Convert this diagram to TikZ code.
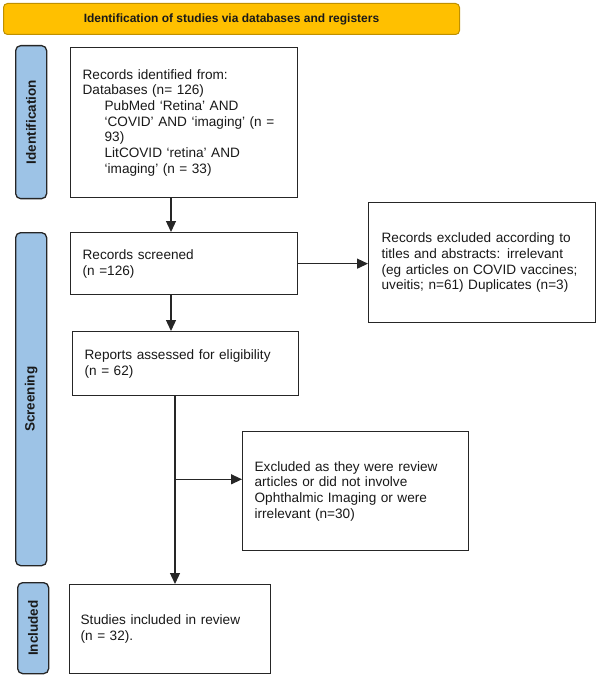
\documentclass[tikz,border=0pt]{standalone}
\usepackage{fontspec}
\setmainfont{Liberation Sans}
\usetikzlibrary{arrows.meta}
\definecolor{titlefill}{HTML}{FFC000}
\definecolor{titledraw}{HTML}{BF9000}
\definecolor{sidefill}{HTML}{9DC3E6}
\definecolor{linec}{HTML}{262626}
\tikzset{
  box/.style={draw=linec, line width=1.3pt, fill=white, anchor=north west, inner xsep=12pt, inner ysep=0pt, align=left,
    font=\fontsize{13.6}{15.7}\selectfont, text=black!90},
  sidebar/.style={draw=linec, line width=1.3pt, fill=sidefill, rounded corners=5pt, anchor=north west, inner sep=0pt},
  sidelabel/.style={rotate=90, font=\bfseries\fontsize{13.5}{15}\selectfont, text=black!90},
  arr/.style={draw=linec, fill=linec, line width=1.3pt, -{Triangle[length=11pt,width=10pt]}},
  ln/.style={draw=linec, line width=1.3pt}
}
\begin{document}
\begin{tikzpicture}[x=1pt,y=-1pt]
\useasboundingbox (0,0) rectangle (597,676);
% title
\node[draw=titledraw, line width=1pt, fill=titlefill, rounded corners=4pt, anchor=north west, minimum width=456pt, minimum height=31pt, inner sep=0pt,
  font=\bfseries\fontsize{12}{14}\selectfont, text=black!90] (title) at (3,3) {Identification of studies via databases and registers};
% side bars
\node[sidebar, minimum width=31pt, minimum height=153pt] (sid) at (15,45) {};
\node[sidelabel] (sidl) at (sid.center) {Identification};
\node[sidebar, minimum width=31pt, minimum height=333pt] (sscr) at (15,232) {};
\node[sidelabel] (sscrl) at (sscr.center) {Screening};
\node[sidebar, minimum width=31pt, minimum height=91pt] (sinc) at (17,582) {};
\node[sidelabel] (sincl) at (sinc.center) {Included};
% boxes
\node[box, text width=203pt, minimum height=150pt] (b1) at (70,47) {Records identified from:\\
Databases (n= 126)\\
\hspace*{22pt}PubMed ‘Retina’ AND\\
\hspace*{22pt}‘COVID’ AND ‘imaging’ (n =\\
\hspace*{22pt}93)\\
\hspace*{22pt}LitCOVID ‘retina’ AND\\
\hspace*{22pt}‘imaging’ (n = 33)};
\node[box, text width=203pt, minimum height=62pt] (b2) at (70,232) {Records screened\\(n =126)};
\node[box, text width=202pt, minimum height=64pt] (b3) at (72,331) {Reports assessed for eligibility\\(n = 62)};
\node[box, text width=179pt, minimum height=89pt, inner xsep=11pt] (b4) at (69,584) {Studies included in review\\(n = 32).};
\node[box, text width=201pt, minimum height=120pt, inner xsep=13pt] (r1) at (368,202) {Records excluded according to\\titles and abstracts: irrelevant\\(eg articles on COVID vaccines;\\uveitis; n=61) Duplicates (n=3)\\[4pt]};
\node[box, text width=202pt, minimum height=119pt] (r2) at (242,431) {Excluded as they were review\\articles or did not involve\\Ophthalmic Imaging or were\\irrelevant (n=30)\\[4pt]};
% connectors
\coordinate (j) at ([xshift=103pt,yshift=-83pt]b3.south west);
\draw[arr] ([xshift=101pt]b1.south west) -- ([xshift=101pt]b2.north west);
\draw[arr] ([xshift=101pt]b2.south west) -- ([xshift=99pt]b3.north west);
\draw[arr] (b2.east) -- (b2.east -| r1.west);
\draw[arr] ([xshift=103pt]b3.south west) -- ([xshift=106pt]b4.north west);
\draw[arr] (j) -- (j -| r2.west);
\end{tikzpicture}
\end{document}
